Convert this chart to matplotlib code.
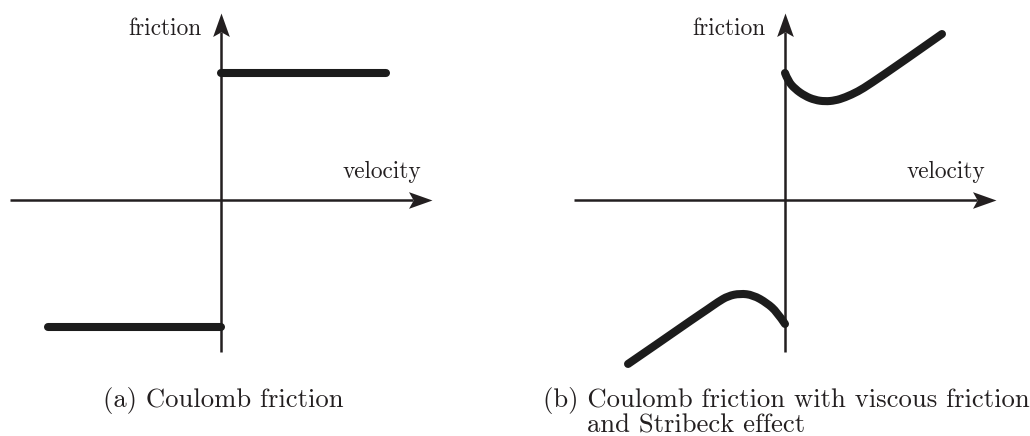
import numpy as np
import matplotlib
matplotlib.use("Agg")
import matplotlib.pyplot as plt
from matplotlib.path import Path
from matplotlib.patches import PathPatch

# friction curves, velocity / friction in units of the Coulomb level
coulomb_pos_v = [0.0, 1.30]
coulomb_pos_f = [1.0, 1.0]
coulomb_neg_v = [-1.36, 0.0]
coulomb_neg_f = [-1.0, -1.0]

stribeck_pos_v = [0.0, 0.024, 0.079, 0.157, 0.236, 0.315, 0.394, 0.472, 0.575, 0.669, 0.906, 1.236]
stribeck_pos_f = [1.0, 0.937, 0.874, 0.819, 0.787, 0.776, 0.783, 0.807, 0.854, 0.913, 1.075, 1.307]
stribeck_neg_v = [-1.236, -0.984, -0.724, -0.606, -0.528, -0.449, -0.354, -0.252, -0.142, -0.063, 0.0]
stribeck_neg_f = [-1.291, -1.118, -0.937, -0.858, -0.803, -0.756, -0.736, -0.748, -0.811, -0.882, -0.976]

AXIS_V = (-1.66, 1.66)
AXIS_F = (-1.20, 1.47)

captions = ["(a) Coulomb friction",
            "(b) Coulomb friction with viscous friction",
            "and Stribeck effect"]

FONT = "cmr10"
INK = "#231f20"
CURVE = "#1c1c1c"

W, H = 1030, 436
SCALE = 127.0  # pixels per unit
ORIGIN_Y = 200
HEAD = 23.5 / SCALE  # arrow head length in data units

# stealth arrow head, tip at the origin, pointing along +x
_head = np.array([[0.0, 0.0], [-1.0, 0.355], [-0.8, 0.0], [-1.0, -0.355], [0.0, 0.0]])
HEAD_RIGHT = Path(_head, closed=True)
HEAD_UP = Path(_head[:, ::-1] * [1, -1] * [-1, -1], closed=True)


def smooth_path(v, f):
    # quadratic bezier through the midpoints of the polyline
    pts = np.column_stack([v, f])
    verts = [pts[0]]
    codes = [Path.MOVETO]
    for i in range(1, len(pts) - 1):
        mid = (pts[i] + pts[i + 1]) / 2
        if i == len(pts) - 2:
            mid = pts[i + 1]
        verts += [pts[i], mid]
        codes += [Path.CURVE3, Path.CURVE3]
    return Path(verts, codes)


def setup_panel(fig, left_px, origin_x):
    ax = fig.add_axes([left_px / W, 0, (W / 2) / W, 1])
    ax.set_xlim((left_px - origin_x) / SCALE, (left_px + W / 2 - origin_x) / SCALE)
    ax.set_ylim((ORIGIN_Y - H) / SCALE, ORIGIN_Y / SCALE)
    ax.axis("off")
    ms = 2 * 23.5 * 72 / 100
    ax.plot([AXIS_V[0], AXIS_V[1] - 0.8 * HEAD], [0, 0], color=INK, lw=1.8, solid_capstyle="butt")
    ax.plot([0, 0], [AXIS_F[0], AXIS_F[1] - 0.8 * HEAD], color=INK, lw=1.8, solid_capstyle="butt")
    ax.plot([AXIS_V[1]], [0], marker=HEAD_RIGHT, ms=ms, color=INK, mew=0)
    ax.plot([0], [AXIS_F[1]], marker=HEAD_UP, ms=ms, color=INK, mew=0)
    ax.text(-0.15, 1.30, "friction", family=FONT, fontsize=16.8, color=INK,
            ha="right", va="baseline")
    ax.text(1.58, 0.173, "velocity", family=FONT, fontsize=16.8, color=INK,
            ha="right", va="baseline")
    return ax


fig = plt.figure(figsize=(W / 100, H / 100), dpi=100)

ax1 = setup_panel(fig, 0, 221)
ax1.plot(coulomb_pos_v, coulomb_pos_f, color=CURVE, lw=5.8, solid_capstyle="round", zorder=3)
ax1.plot(coulomb_neg_v, coulomb_neg_f, color=CURVE, lw=5.8, solid_capstyle="round", zorder=3)

ax2 = setup_panel(fig, W / 2, 785)
for v, f in [(stribeck_pos_v, stribeck_pos_f), (stribeck_neg_v, stribeck_neg_f)]:
    ax2.add_patch(PathPatch(smooth_path(v, f), fill=False, edgecolor=CURVE, lw=5.8,
                            capstyle="round", joinstyle="round", zorder=3))

fig.text(103 / W, 1 - 407 / H, captions[0], family=FONT, fontsize=19.2, color=INK, va="baseline")
fig.text(543 / W, 1 - 407 / H, captions[1], family=FONT, fontsize=19.2, color=INK, va="baseline")
fig.text(587 / W, 1 - 432 / H, captions[2], family=FONT, fontsize=19.2, color=INK, va="baseline")

fig.savefig("out.png", dpi=100, facecolor="white")
